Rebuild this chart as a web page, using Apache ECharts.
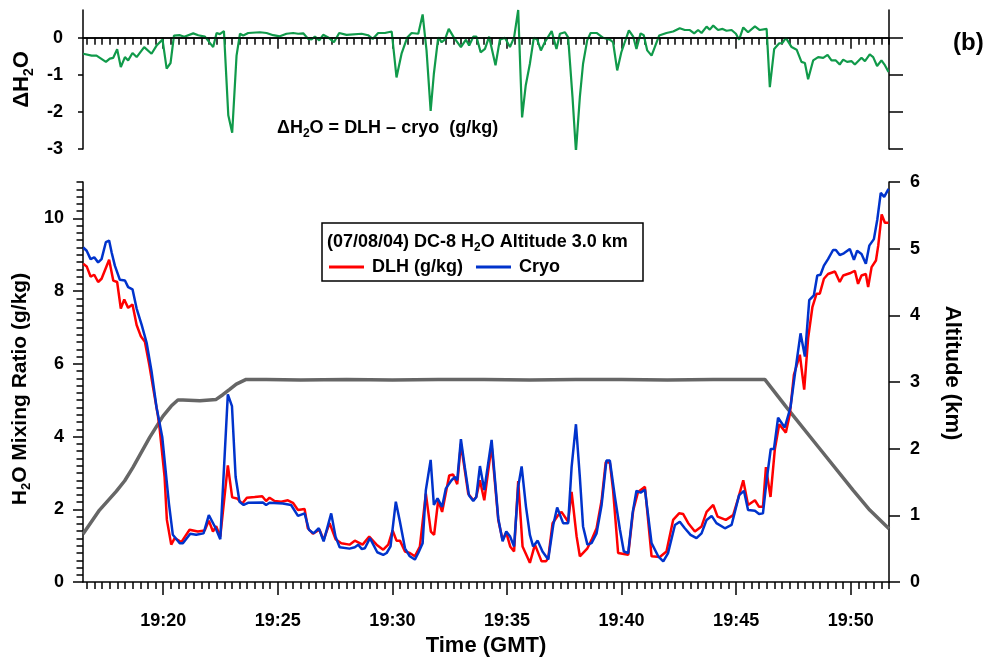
<!DOCTYPE html>
<html><head><meta charset="utf-8">
<script src="https://cdn.jsdelivr.net/npm/echarts@6/dist/echarts.min.js"></script>
<style>html,body{margin:0;padding:0;background:#fff}#chart{width:990px;height:662px}</style>
</head><body><div id="chart"></div>
<script>
// ---- data (time in minutes after 19:00 GMT) ----
const dlhTimes = [16.51,16.66,16.83,16.99,17.16,17.31,17.64,17.82,17.99,18.15,18.30,18.47,18.66,18.84,19.03,19.20,19.39,19.56,19.76,19.84,20.06,20.16,20.35,20.50,20.79,21.15,21.51,21.81,21.99,22.17,22.31,22.49,22.82,23.01,23.22,23.45,23.65,23.99,24.32,24.49,24.64,24.86,25.15,25.44,25.66,25.88,26.17,26.31,26.53,26.82,27.00,27.26,27.52,27.77,28.13,28.36,28.70,28.99,29.31,29.60,29.82,30.01,30.18,30.33,30.55,30.76,30.98,31.20,31.46,31.68,31.82,32.00,32.17,32.48,32.65,32.83,32.99,33.16,33.31,33.53,33.66,33.82,34.01,34.33,34.62,34.81,34.97,35.14,35.31,35.49,35.68,36.00,36.22,36.51,36.70,36.80,36.99,37.23,37.38,37.67,37.82,38.04,38.18,38.51,38.69,38.91,39.13,39.31,39.49,39.63,39.85,40.29,40.51,40.72,41.02,41.31,41.67,41.96,42.25,42.51,42.69,42.91,43.20,43.49,43.71,44.00,44.19,44.55,44.87,45.09,45.31,45.52,45.82,46.00,46.17,46.30,46.50,46.69,46.88,47.17,47.34,47.52,47.78,47.97,48.14,48.33,48.51,48.65,48.83,49.01,49.31,49.52,49.67,49.96,50.18,50.32,50.47,50.66,50.76,50.91,51.10,51.20,51.35,51.49,51.65];
const dlhValues = [8.75,8.68,8.40,8.45,8.25,8.34,8.86,8.29,8.25,7.52,7.77,7.54,7.63,7.07,6.75,6.61,5.98,5.34,4.61,4.25,2.89,1.71,1.03,1.21,1.10,1.44,1.39,1.42,1.69,1.39,1.54,1.25,3.21,2.33,2.30,2.16,2.32,2.34,2.36,2.23,2.32,2.23,2.21,2.25,2.18,1.98,2.01,1.48,1.33,1.44,1.16,1.62,1.18,1.07,1.03,1.14,1.03,1.25,1.03,0.89,1.03,1.42,1.14,1.14,0.84,0.80,0.71,0.98,2.43,1.39,1.30,2.25,1.93,2.93,2.96,2.69,3.80,3.07,2.43,2.25,2.34,2.80,2.25,3.75,1.71,1.16,1.36,0.98,0.84,2.78,0.98,0.53,1.03,0.57,0.57,0.66,1.62,1.84,1.93,1.66,2.48,1.25,0.71,0.93,1.16,1.48,2.25,3.30,3.28,2.53,0.80,0.75,1.98,2.48,2.62,0.71,0.69,0.84,1.71,1.89,1.87,1.62,1.39,1.53,1.93,2.12,1.80,1.71,1.84,2.30,2.80,2.12,2.25,2.07,2.07,3.16,2.34,3.66,4.34,4.11,4.61,5.70,6.25,5.29,6.70,7.57,7.93,7.93,8.34,8.47,8.54,8.25,8.43,8.49,8.56,8.20,8.43,8.47,8.11,8.66,8.84,9.25,10.11,9.88,9.88];

const cryoTimes = [16.51,16.66,16.83,16.99,17.16,17.31,17.50,17.64,17.75,17.89,18.11,18.33,18.47,18.66,18.84,19.06,19.28,19.49,19.71,19.96,20.25,20.42,20.72,20.86,21.18,21.44,21.76,21.99,22.29,22.49,22.82,23.00,23.16,23.33,23.51,23.70,24.35,24.49,24.64,25.22,25.58,25.88,26.17,26.36,26.56,26.79,27.00,27.33,27.52,27.70,28.13,28.36,28.51,28.66,28.80,29.02,29.34,29.60,29.75,29.92,30.15,30.33,30.55,30.76,30.98,31.13,31.32,31.46,31.67,31.81,31.97,32.17,32.33,32.58,32.73,32.83,32.99,33.16,33.34,33.53,33.66,33.82,34.01,34.33,34.62,34.81,34.97,35.14,35.31,35.49,35.64,35.83,36.00,36.14,36.34,36.55,36.80,37.02,37.19,37.45,37.67,37.82,38.01,38.18,38.32,38.51,38.69,38.91,39.13,39.34,39.49,39.71,39.93,40.10,40.29,40.48,40.65,40.83,41.02,41.31,41.60,41.82,42.03,42.33,42.54,42.76,43.01,43.27,43.49,43.71,43.93,44.14,44.51,44.80,45.13,45.34,45.52,45.82,46.00,46.17,46.33,46.51,46.65,46.83,47.12,47.37,47.56,47.81,48.00,48.19,48.39,48.54,48.68,48.83,49.01,49.23,49.35,49.52,49.70,49.96,50.14,50.28,50.47,50.66,50.81,51.01,51.16,51.31,51.46,51.65];
const cryoValues = [9.20,9.11,8.88,8.93,8.79,8.88,9.35,9.39,9.06,8.70,8.31,8.29,8.11,8.05,7.52,7.07,6.57,5.80,4.80,3.98,2.16,1.30,1.07,1.07,1.33,1.30,1.34,1.84,1.48,1.18,5.16,4.84,2.89,2.21,2.12,2.18,2.19,2.12,2.18,2.16,2.12,1.82,1.89,1.44,1.34,1.48,1.12,1.89,1.25,0.96,0.92,0.96,1.03,0.91,0.93,1.21,0.82,0.75,0.80,0.98,2.21,1.66,0.93,0.71,0.62,0.80,1.07,2.53,3.36,2.12,2.30,2.07,2.57,2.80,2.89,2.80,3.93,3.16,2.39,2.23,2.34,3.19,2.53,3.91,1.75,1.12,1.39,1.25,0.98,2.62,3.18,2.07,1.30,0.98,1.14,0.84,0.62,1.57,2.05,1.62,1.62,3.16,4.34,2.89,1.53,1.03,1.07,1.34,2.12,3.34,3.34,2.34,1.44,0.84,0.80,1.89,2.51,2.46,2.54,1.07,0.71,0.57,0.80,1.57,1.66,1.48,1.30,1.21,1.34,1.71,1.82,1.62,1.48,1.57,2.39,2.51,1.98,1.96,1.87,1.89,2.80,3.66,3.66,4.52,4.25,4.80,5.70,6.84,6.20,7.75,7.88,8.43,8.45,8.70,8.88,9.13,9.13,8.99,9.04,9.16,8.86,9.11,9.02,8.75,9.25,9.43,9.97,10.70,10.59,10.81];

const altTimes = [16.50,17.22,17.95,18.32,18.68,19.41,19.99,20.35,20.64,20.86,21.60,22.31,22.60,22.90,23.19,23.62,24.50,26.00,28.00,30.00,32.00,34.00,36.00,38.00,40.00,42.00,44.00,46.25,47.20,48.65,50.10,50.83,51.67];
const altValues = [0.72,1.08,1.36,1.52,1.72,2.17,2.49,2.64,2.73,2.73,2.72,2.74,2.81,2.89,2.97,3.04,3.04,3.03,3.04,3.03,3.04,3.04,3.03,3.04,3.04,3.03,3.04,3.04,2.62,2.00,1.38,1.08,0.80];

const deltaTimes = [16.51,16.88,17.09,17.50,17.67,17.82,17.99,18.15,18.33,18.47,18.66,18.84,19.17,19.49,19.71,19.97,20.15,20.32,20.47,20.73,20.92,21.31,21.53,21.82,22.18,22.33,22.47,22.65,22.84,23.01,23.20,23.35,23.49,23.71,24.22,24.51,24.80,25.09,25.38,25.67,25.89,26.11,26.33,26.47,26.62,26.81,26.98,27.20,27.45,27.68,28.00,28.66,28.94,29.14,29.38,29.67,29.97,30.18,30.40,30.65,30.84,31.13,31.32,31.49,31.67,31.81,32.00,32.15,32.29,32.46,32.68,32.99,33.21,33.35,33.53,33.67,33.85,34.04,34.22,34.50,34.69,34.91,35.13,35.31,35.49,35.66,35.82,36.00,36.17,36.32,36.48,36.65,36.95,37.16,37.31,37.53,37.67,37.86,38.01,38.18,38.32,38.50,38.65,38.91,39.20,39.49,39.63,39.81,39.99,40.14,40.32,40.51,40.65,40.83,40.97,41.12,41.31,41.45,41.64,41.96,42.25,42.54,42.76,42.98,43.17,43.34,43.49,43.71,43.85,44.00,44.21,44.41,44.58,44.80,44.99,45.13,45.31,45.52,45.82,46.03,46.33,46.47,46.66,46.88,47.02,47.17,47.42,47.64,47.85,48.00,48.14,48.36,48.58,48.80,48.99,49.16,49.35,49.52,49.67,49.84,50.04,50.18,50.47,50.62,50.83,50.98,51.15,51.34,51.49,51.65];
const deltaValues = [-0.43,-0.48,-0.48,-0.65,-0.56,-0.54,-0.31,-0.79,-0.52,-0.61,-0.41,-0.52,-0.25,-0.43,-0.21,-0.05,-0.83,-0.68,0.06,0.07,0.03,0.12,0.07,0.03,-0.25,0.13,0.10,0.18,-2.09,-2.56,-0.48,0.11,0.06,0.13,0.15,0.13,0.07,0.04,0.11,0.13,0.11,0.12,-0.03,-0.04,0.03,-0.07,0.08,0.01,-0.12,0.13,0.08,0.11,0.07,-0.03,0.13,0.13,0.17,-1.07,-0.43,0.01,0.13,0.11,0.63,-0.34,-1.97,-0.97,0.01,-0.12,-0.05,0.24,0.01,-0.25,-0.05,-0.21,0.03,0.03,-0.39,-0.30,0.03,-0.74,-0.05,0.00,-0.25,0.01,0.75,-2.15,-1.28,-0.70,0.00,-0.05,-0.34,-0.12,0.18,-0.30,0.11,0.15,0.01,-1.60,-3.07,-1.60,-0.70,-0.07,0.13,0.13,0.00,-0.05,-0.12,-0.88,-0.39,-0.12,0.20,0.03,-0.30,0.12,0.07,-0.34,-0.48,-0.25,0.06,0.13,0.17,0.26,0.21,0.21,0.12,0.21,0.13,0.30,0.22,0.33,0.21,0.24,0.19,0.21,0.11,-0.05,0.28,0.15,0.31,0.21,0.24,-1.33,-0.30,-0.15,-0.14,0.00,-0.25,-0.32,-0.65,-0.68,-1.12,-0.61,-0.52,-0.54,-0.46,-0.61,-0.61,-0.72,-0.59,-0.65,-0.63,-0.72,-0.54,-0.63,-0.45,-0.52,-0.76,-0.61,-0.74,-0.92];

const timeLabelValues = [20,25,30,35,40,45,50];
const mixingLabelValues = [0,2,4,6,8,10];
const altLabelValues = [0,1,2,3,4,5,6];
const deltaLabelValues = [-3,-2,-1,0];

// minor tick positions: every 20 s in time, every 0.2 g/kg in mixing ratio
const minorTimeTicks = [];
for (let k = 50; k <= 155; k++) minorTimeTicks.push(k / 3);
const minorMixTicks = [];
for (let k = 0; k <= 55; k++) minorMixTicks.push(k / 5);

const zip = (t, v) => t.map((x, i) => [x, v[i]]);

const FONT = '"Liberation Sans", Arial, Helvetica, sans-serif';
const BLACK = '#000';
const lineAx = {show: true, lineStyle: {color: BLACK, width: 1.5}};
const noLine = {show: false};
const rich = (size, sub, pad) => ({
  n: {fontSize: size, fontWeight: 'bold', fontFamily: FONT, color: BLACK},
  s: {fontSize: sub, fontWeight: 'bold', fontFamily: FONT, color: BLACK, padding: [pad, 0, 0, 0]}
});
const tickLabel = {fontSize: 18, fontWeight: 'bold', fontFamily: FONT, color: BLACK};

const X_MIN = 16.5, X_MAX = 51.67;

const chart = echarts.init(document.getElementById('chart'), null, {renderer: 'canvas'});
chart.setOption({
  animation: false,
  backgroundColor: '#fff',
  textStyle: {fontFamily: FONT},
  grid: [
    {left: 83, right: 101, top: 10, height: 139},
    {left: 83, right: 101, top: 182, height: 404}
  ],
  xAxis: [
    {gridIndex: 0, type: 'value', min: X_MIN, max: X_MAX, position: 'bottom',
     axisLine: lineAx, splitLine: {show: false},
     axisTick: {show: true, customValues: minorTimeTicks, length: 7, lineStyle: {color: BLACK, width: 1.5}},
     axisLabel: {show: false}},
    {gridIndex: 0, type: 'value', min: X_MIN, max: X_MAX, position: 'bottom',
     axisLine: noLine, splitLine: {show: false},
     axisTick: {show: true, customValues: timeLabelValues, length: 11, lineStyle: {color: BLACK, width: 1.5}},
     axisLabel: {show: false}},
    {gridIndex: 1, type: 'value', min: X_MIN, max: X_MAX, position: 'bottom',
     axisLine: lineAx, splitLine: {show: false},
     axisTick: {show: true, customValues: minorTimeTicks, length: 7, lineStyle: {color: BLACK, width: 1.5}},
     axisLabel: Object.assign({customValues: timeLabelValues, margin: 30,
       formatter: v => '19:' + String(Math.round(v)).padStart(2, '0')}, tickLabel),
     name: 'Time (GMT)', nameLocation: 'middle', nameGap: 49,
     nameTextStyle: {fontSize: 22, fontWeight: 'bold', fontFamily: FONT, color: BLACK}},
    {gridIndex: 1, type: 'value', min: X_MIN, max: X_MAX, position: 'bottom',
     axisLine: noLine, splitLine: {show: false},
     axisTick: {show: true, customValues: timeLabelValues, length: 13, lineStyle: {color: BLACK, width: 1.5}},
     axisLabel: {show: false}}
  ],
  yAxis: [
    {gridIndex: 0, type: 'value', min: -3, max: 0.75, position: 'left',
     axisLine: lineAx, splitLine: {show: false},
     axisTick: {show: true, customValues: deltaLabelValues, length: 5, lineStyle: {color: BLACK, width: 1.5}},
     axisLabel: Object.assign({customValues: deltaLabelValues, margin: 20}, tickLabel),
     name: '{n|ΔH}{s|2}{n|O}', nameLocation: 'middle', nameGap: 46,
     nameTextStyle: {rich: rich(22, 14, 14)}},
    {gridIndex: 0, type: 'value', min: -3, max: 0.75, position: 'right',
     axisLine: lineAx, splitLine: {show: false},
     axisTick: {show: true, customValues: deltaLabelValues, length: 14, lineStyle: {color: BLACK, width: 1.5}},
     axisLabel: {show: false}},
    {gridIndex: 1, type: 'value', min: 0, max: 11, position: 'left',
     axisLine: lineAx, splitLine: {show: false},
     axisTick: {show: true, customValues: minorMixTicks, length: 6.5, lineStyle: {color: BLACK, width: 1.5}},
     axisLabel: Object.assign({customValues: mixingLabelValues, margin: 19}, tickLabel),
     name: '{n|H}{s|2}{n|O Mixing Ratio (g/kg)}', nameLocation: 'middle', nameGap: 38,
     nameTextStyle: {rich: rich(21, 13, 13), padding: [0, 14, 0, 0]}},
    {gridIndex: 1, type: 'value', min: 0, max: 11, position: 'left',
     axisLine: noLine, splitLine: {show: false},
     axisTick: {show: true, customValues: mixingLabelValues, length: 10, lineStyle: {color: BLACK, width: 1.5}},
     axisLabel: {show: false}},
    {gridIndex: 1, type: 'value', min: 0, max: 6, interval: 1, position: 'right',
     axisLine: lineAx, splitLine: {show: false},
     axisTick: {show: true, length: 11, lineStyle: {color: BLACK, width: 1.5}},
     axisLabel: Object.assign({margin: 21}, tickLabel),
     name: 'Altitude (km)', nameLocation: 'middle', nameGap: 52, nameRotate: -90,
     nameTextStyle: {fontSize: 22, fontWeight: 'bold', fontFamily: FONT, color: BLACK, padding: [0, 18, 0, 0]}}
  ],
  legend: {
    data: ['DLH (g/kg)', 'Cryo'], left: 329, top: 258, padding: 0,
    icon: 'rect', itemWidth: 35, itemHeight: 3, itemGap: 13, z: 10,
    textStyle: {fontSize: 18, fontWeight: 'bold', fontFamily: FONT, color: BLACK, padding: [0, 0, 0, 3]}
  },
  graphic: [
    {type: 'rect', z: 3, shape: {x: 322, y: 223, width: 321, height: 58},
     style: {fill: '#fff', stroke: BLACK, lineWidth: 1.5}},
    {type: 'text', z: 11, x: 327, y: 242,
     style: {text: '{n|(07/08/04) DC-8 H}{s|2}{n|O Altitude 3.0 km}', rich: rich(18, 12, 11),
             verticalAlign: 'middle', align: 'left'}},
    {type: 'text', z: 11, x: 277, y: 128,
     style: {text: '{n|ΔH}{s|2}{n|O = DLH – cryo  (g/kg)}', rich: rich(18, 12, 11),
             verticalAlign: 'middle', align: 'left'}},
    {type: 'text', z: 11, x: 953, y: 43,
     style: {text: '(b)', font: 'bold 24px ' + FONT, fill: BLACK, verticalAlign: 'middle', align: 'left'}}
  ],
  series: [
    {name: 'Altitude', type: 'line', xAxisIndex: 2, yAxisIndex: 4, data: zip(altTimes, altValues),
     showSymbol: false, z: 2, lineStyle: {color: '#666666', width: 3.5}, itemStyle: {color: '#666666'}},
    {name: 'DLH (g/kg)', type: 'line', xAxisIndex: 2, yAxisIndex: 2, data: zip(dlhTimes, dlhValues),
     showSymbol: false, z: 3, lineStyle: {color: '#ff0000', width: 2.5}, itemStyle: {color: '#ff0000'}},
    {name: 'Cryo', type: 'line', xAxisIndex: 2, yAxisIndex: 2, data: zip(cryoTimes, cryoValues),
     showSymbol: false, z: 4, lineStyle: {color: '#0033cc', width: 2.5}, itemStyle: {color: '#0033cc'}},
    {name: 'ΔH2O', type: 'line', xAxisIndex: 0, yAxisIndex: 0, data: zip(deltaTimes, deltaValues),
     showSymbol: false, z: 4, lineStyle: {color: '#109a4a', width: 2.2}, itemStyle: {color: '#109a4a'},
     markLine: {silent: true, symbol: 'none', label: {show: false},
       lineStyle: {color: BLACK, width: 1.5, type: 'solid'}, data: [{yAxis: 0}]}}
  ]
});
</script></body></html>
